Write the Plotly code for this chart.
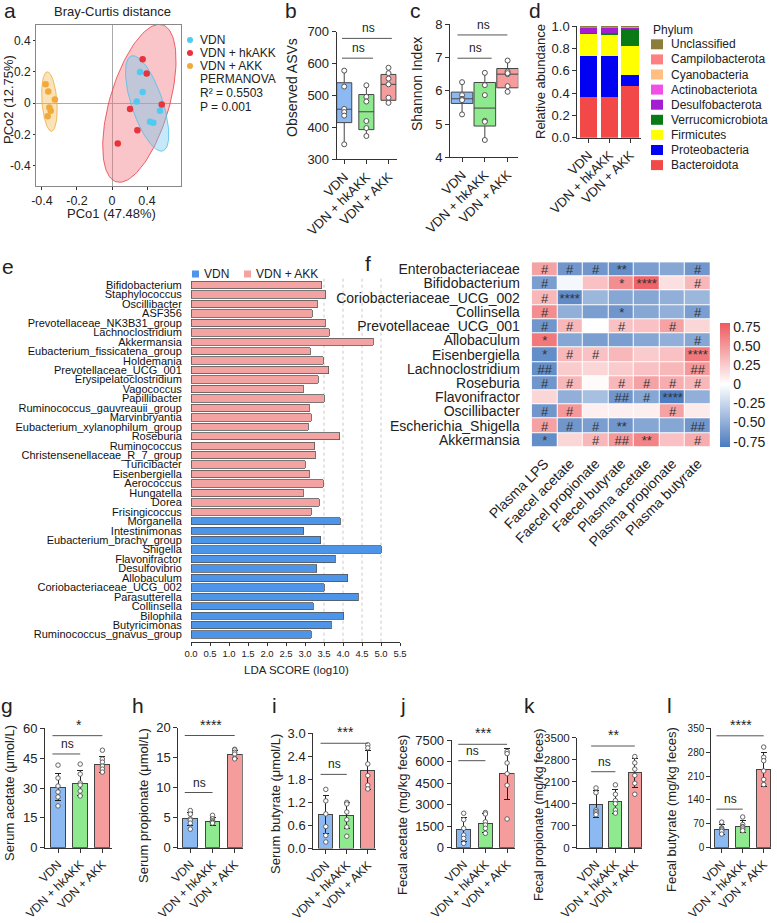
import numpy as np
import plotly.graph_objects as go

W, H = 777, 923
FONT = "Liberation Sans, Arial, sans-serif"
TXT = "#222222"

# ======================= DATA =======================
groups = ["VDN", "VDN + hkAKK", "VDN + AKK"]
pt_colors = ["#4FCBF2", "#E8323C", "#F2A93B"]
fill_colors = ["#8DB9F3", "#8FEA8F", "#F59C9C"]

# (a) PCoA, Bray-Curtis
pcoa_vdn_x = [0.160, 0.175, 0.141, 0.274, 0.217, 0.236]
pcoa_vdn_y = [0.200, 0.072, 0.011, -0.049, -0.119, -0.126]
pcoa_hk_x = [0.175, 0.198, 0.284, 0.103, 0.145, 0.033]
pcoa_hk_y = [0.281, 0.190, -0.008, -0.038, -0.173, -0.258]
pcoa_akk_x = [-0.379, -0.364, -0.326, -0.358, -0.350, -0.367]
pcoa_akk_y = [0.121, 0.075, 0.024, -0.027, -0.049, -0.083]
pcoa_xticks = [-0.4, -0.2, 0, 0.2]
pcoa_xticktext = ["-0.4", "-0.2", "0", "0.4"]
pcoa_yticks = [-0.4, -0.2, 0, 0.2, 0.4]
pcoa_yticktext = ["-0.4", "-0.2", "0", "0.2", "0.4"]

# (b) Observed ASVs box stats
asv_q1 = [415, 393, 485]
asv_med = [457, 449, 535]
asv_q3 = [540, 503, 566]
asv_lo = [347, 373, 474]
asv_hi = [578, 532, 587]
asv_pts = [[578, 528, 458, 448, 437, 347],
           [532, 496, 481, 420, 398, 373],
           [587, 570, 553, 535, 493, 477]]

# (c) Shannon index box stats
sh_q1 = [5.62, 4.94, 6.09]
sh_med = [5.76, 5.48, 6.50]
sh_q3 = [5.96, 6.25, 6.67]
sh_lo = [5.28, 4.50, 5.96]
sh_hi = [6.26, 6.53, 6.91]
sh_pts = [[6.26, 5.87, 5.76, 5.74, 5.72, 5.29],
          [6.54, 6.17, 5.87, 5.10, 5.07, 4.52],
          [6.91, 6.58, 6.50, 6.53, 6.14, 5.97]]

# (d) Phylum relative abundance (stack bottom -> top)
phyla = ["Bacteroidota", "Proteobacteria", "Firmicutes", "Verrucomicrobiota",
         "Desulfobacterota", "Actinobacteriota", "Cyanobacteria",
         "Campilobacterota", "Unclassified"]
phyla_colors = ["#F24848", "#0000F2", "#FFFF00", "#0A7A14", "#A31ED2",
                "#F050E6", "#FFBE82", "#FF8080", "#8C7D3C"]
phyla_vals = [[0.360, 0.365, 0.460],
              [0.370, 0.365, 0.100],
              [0.200, 0.190, 0.260],
              [0.010, 0.015, 0.155],
              [0.045, 0.050, 0.010],
              [0.010, 0.008, 0.004],
              [0.002, 0.002, 0.002],
              [0.002, 0.003, 0.007],
              [0.001, 0.002, 0.002]]

# (e) LEfSe LDA
lda_names = ["Bifidobacterium", "Staphylococcus", "Oscillibacter", "ASF356",
             "Prevotellaceae_NK3B31_group", "Lachnoclostridium", "Akkermansia",
             "Eubacterium_fissicatena_group", "Holdemania", "Prevotellaceae_UCG_001",
             "Erysipelatoclostridium", "Vagococcus", "Papillibacter",
             "Ruminococcus_gauvreauii_group", "Marvinbryantia",
             "Eubacterium_xylanophilum_group", "Roseburia", "Ruminococcus",
             "Christensenellaceae_R_7_group", "Turicibacter", "Eisenbergiella",
             "Aerococcus", "Hungatella", "Dorea", "Frisingicoccus", "Morganella",
             "Intestinimonas", "Eubacterium_brachy_group", "Shigella",
             "Flavonifractor", "Desulfovibrio", "Allobaculum",
             "Coriobacteriaceae_UCG_002", "Parasutterella", "Collinsella",
             "Bilophila", "Butyricimonas", "Ruminococcus_gnavus_group"]
lda_vals = [3.44, 3.55, 3.32, 3.19, 3.53, 3.64, 4.80, 3.14, 3.48, 3.63,
            3.35, 2.96, 3.51, 3.11, 3.17, 3.09, 3.91, 3.25, 3.27, 3.01,
            3.11, 3.48, 2.96, 3.38, 3.17, 3.93, 2.97, 3.41, 5.01, 3.80,
            3.31, 4.13, 3.51, 4.40, 3.22, 4.02, 3.69, 3.16]
lda_group = ["VDN + AKK"] * 25 + ["VDN"] * 13
lda_colors = {"VDN": "#4C95E8", "VDN + AKK": "#F4A3A3"}
lda_grid = [3.5, 4.0, 4.5, 5.0]

# (f) correlation heatmap
hm_rows = ["Enterobacteriaceae", "Bifidobacterium", "Coriobacteriaceae_UCG_002",
           "Collinsella", "Prevotellaceae_UCG_001", "Allobaculum", "Eisenbergiella",
           "Lachnoclostridium", "Roseburia", "Flavonifractor", "Oscillibacter",
           "Escherichia_Shigella", "Akkermansia"]
hm_cols = ["Plasma LPS", "Faecel acetate", "Faecel propionate", "Faecel butyrate",
           "Plasma acetate", "Plasma propionate", "Plasma butyrate"]
hm_z = [[0.45, -0.65, -0.65, -0.70, -0.60, -0.55, -0.65],
        [-0.60, -0.05, 0.30, 0.55, 0.75, 0.15, 0.35],
        [0.35, -0.72, -0.45, -0.55, -0.55, -0.50, -0.45],
        [0.55, -0.50, -0.60, -0.65, -0.55, -0.50, -0.60],
        [-0.65, 0.35, 0.00, 0.30, 0.30, 0.45, 0.20],
        [0.65, -0.55, -0.60, -0.60, -0.55, -0.50, -0.55],
        [-0.70, 0.35, 0.30, 0.35, 0.25, 0.30, 0.65],
        [-0.70, 0.25, 0.20, 0.25, 0.30, 0.35, 0.50],
        [-0.65, 0.35, 0.02, 0.35, 0.45, 0.40, 0.35],
        [0.20, -0.50, -0.40, -0.65, -0.55, -0.80, -0.50],
        [-0.65, 0.50, 0.08, 0.08, 0.08, 0.45, 0.10],
        [0.45, -0.65, -0.60, -0.65, -0.55, -0.55, -0.65],
        [-0.70, 0.20, 0.35, 0.50, 0.60, 0.30, 0.40]]
hm_txt = [["#", "#", "#", "**", "", "", "#"],
          ["#", "", "", "*", "****", "", "#"],
          ["#", "****", "", "", "", "", ""],
          ["#", "", "", "*", "", "", "#"],
          ["#", "#", "", "#", "", "#", ""],
          ["*", "", "", "", "", "", "#"],
          ["*", "#", "#", "", "", "", "****"],
          ["##", "", "", "", "", "", "##"],
          ["#", "#", "", "#", "#", "#", "#"],
          ["", "", "", "##", "#", "****", ""],
          ["#", "#", "", "", "", "#", ""],
          ["#", "#", "#", "**", "", "", "##"],
          ["*", "", "#", "##", "**", "", "#"]]
cb_ticks = [-0.75, -0.5, -0.25, 0, 0.25, 0.5, 0.75]
cb_text = ["-0.75", "-0.50", "-0.25", "0", "0.25", "0.50", "0.75"]

# (g-l) SCFA bars
serum_acetate_mean = [30.5, 32.5, 42.0]
serum_acetate_sd = [7.0, 6.5, 4.0]
serum_acetate_pts = [[41.5, 35, 31, 28, 25.5, 21], [42, 37, 32.5, 31.5, 28.5, 26], [49, 44.5, 43, 41, 39.5, 38]]
serum_prop_mean = [4.8, 4.4, 15.5]
serum_prop_sd = [1.1, 0.65, 0.7]
serum_prop_pts = [[6.2, 5.6, 4.8, 4.6, 4.1, 3.1], [5.4, 4.8, 4.5, 4.3, 4.2, 4.1], [16.4, 16.3, 15.9, 15.6, 14.9, 14.8]]
serum_but_mean = [0.88, 0.86, 2.04]
serum_but_sd = [0.5, 0.34, 0.5]
serum_but_pts = [[1.54, 1.24, 0.9, 0.57, 0.34, 0.17], [1.2, 1.16, 0.95, 0.75, 0.56, 0.32], [2.7, 2.62, 2.2, 1.9, 1.65, 1.55]]
fecal_ace_mean = [1250, 1700, 5150]
fecal_ace_sd = [840, 650, 1780]
fecal_ace_pts = [[2400, 1950, 1350, 880, 650, 300], [2450, 2350, 1800, 1580, 1350, 1000], [6700, 6550, 5900, 5150, 4350, 2000]]
fecal_prop_mean = [1380, 1480, 2380]
fecal_prop_sd = [430, 380, 470]
fecal_prop_pts = [[1900, 1750, 1200, 1150, 1100, 1050], [2000, 1700, 1500, 1400, 1200, 1100], [2900, 2700, 2500, 2300, 2050, 1700]]
fecal_but_mean = [53, 62, 230]
fecal_but_sd = [14, 17, 50]
fecal_but_pts = [[75, 58, 55, 52, 48, 40], [90, 68, 62, 60, 55, 50], [295, 265, 255, 225, 200, 185]]

# ======================= HELPERS =======================
fig = go.Figure()
layout = dict(width=W, height=H, margin=dict(l=0, r=0, t=0, b=0),
              paper_bgcolor="white", plot_bgcolor="rgba(0,0,0,0)",
              showlegend=False, barmode="stack",
              font=dict(family=FONT, color=TXT, size=13))
shapes, annotations = [], []
_n = [0]


def px(x):
    return x / W


def py(y):
    return 1 - y / H


def new_axes(l, r, t, b, xo, yo):
    _n[0] += 1
    s = "" if _n[0] == 1 else str(_n[0])
    xo = dict(xo)
    yo = dict(yo)
    xo.update(domain=[px(l), px(r)], anchor="y" + s, automargin=False)
    yo.update(domain=[py(b), py(t)], anchor="x" + s, automargin=False)
    layout["xaxis" + s] = xo
    layout["yaxis" + s] = yo
    return "x" + s, "y" + s


def tf(size):
    return dict(size=size, family=FONT, color=TXT)


def ax(**kw):
    d = dict(showgrid=False, zeroline=False, showline=True, linecolor="#333",
             linewidth=1, ticks="outside", ticklen=4, tickcolor="#333",
             tickwidth=1, tickfont=tf(13))
    d.update(kw)
    return d


def ann(text, x, y, size=13, xanchor="center", yanchor="middle", angle=0, **kw):
    annotations.append(dict(text=text, x=px(x), y=py(y), xref="paper", yref="paper",
                            showarrow=False, xanchor=xanchor, yanchor=yanchor,
                            textangle=angle, font=tf(size), **kw))


def letter(t, x, y):
    ann(t, x, y, size=21)


def bracket(xr, yr, x0, x1, yv, label, size=12):
    shapes.append(dict(type="line", xref=xr, yref=yr, x0=x0, x1=x1, y0=yv, y1=yv,
                       line=dict(color="#555", width=1)))
    annotations.append(dict(text=label, x=(x0 + x1) / 2 + 0.05, y=yv, xref=xr, yref=yr,
                            showarrow=False, yanchor="bottom", yshift=1, font=tf(size)))


def conf_ellipse(x, y, n=120, k=2.4477):
    x = np.asarray(x)
    y = np.asarray(y)
    vals, vecs = np.linalg.eigh(np.cov(x, y))
    t = np.linspace(0, 2 * np.pi, n)
    circ = np.vstack([np.cos(t), np.sin(t)])
    pts = vecs @ (np.sqrt(vals)[:, None] * k * circ)
    return x.mean() + pts[0], y.mean() + pts[1]


# ======================= (a) =======================
xa, ya = new_axes(36, 181, 25, 186,
                  ax(range=[-0.434, 0.394], tickvals=pcoa_xticks, ticktext=pcoa_xticktext,
                     mirror=True, linecolor="#888", zeroline=True, zerolinecolor="#aaa",
                     zerolinewidth=1, ticklen=3, tickfont=tf(12.5)),
                  ax(range=[-0.53, 0.5], tickvals=pcoa_yticks, ticktext=pcoa_yticktext,
                     mirror=True, linecolor="#888", zeroline=True, zerolinecolor="#aaa",
                     zerolinewidth=1, ticklen=2, tickfont=tf(12)))
ell_specs = [(pcoa_hk_x, pcoa_hk_y, "rgba(240,110,120,0.40)", "rgba(232,60,70,0.8)"),
             (pcoa_vdn_x, pcoa_vdn_y, "rgba(110,200,240,0.40)", "rgba(80,190,235,0.8)"),
             (pcoa_akk_x, pcoa_akk_y, "rgba(245,190,100,0.45)", "rgba(240,170,60,0.8)")]
for ex, ey, fc, lc in ell_specs:
    exx, eyy = conf_ellipse(ex, ey)
    fig.add_trace(go.Scatter(x=exx, y=eyy, mode="lines", fill="toself", fillcolor=fc,
                             line=dict(color=lc, width=1), xaxis=xa, yaxis=ya,
                             hoverinfo="skip"))
for (gx, gy), c in zip([(pcoa_vdn_x, pcoa_vdn_y), (pcoa_hk_x, pcoa_hk_y),
                        (pcoa_akk_x, pcoa_akk_y)], pt_colors):
    fig.add_trace(go.Scatter(x=gx, y=gy, mode="markers", xaxis=xa, yaxis=ya,
                             marker=dict(size=6.5, color=c)))
letter("a", 10, 11)
ann("Bray-Curtis distance", 112, 12, size=13)
ann("PCo1 (47.48%)", 111, 213, size=13)
ann("PCo2 (12.75%)", 8, 100, size=13, angle=-90)
leg_a_y = [40, 53, 66]
for g, c, yy in zip(groups, pt_colors, leg_a_y):
    shapes.append(dict(type="circle", xref="paper", yref="paper",
                       x0=px(187), x1=px(193), y0=py(yy + 3), y1=py(yy - 3),
                       fillcolor=c, line=dict(width=0)))
    ann(g, 198, yy, size=12, xanchor="left")
ann("PERMANOVA", 198, 79, size=12, xanchor="left")
ann("R² = 0.5503", 198, 93, size=12, xanchor="left")
ann("P = 0.001", 198, 107, size=12, xanchor="left")


# ======================= (b), (c) boxes =======================
def box_panel(l, r, t, b, xr, yrange, dtick, q1, med, q3, lo, hi, pts, width):
    xx, yy = new_axes(l, r, t, b,
                      ax(range=xr, tickvals=[0, 1, 2], ticktext=groups, tickangle=-45),
                      ax(range=yrange, dtick=dtick, tick0=yrange[0]))
    for i in range(3):
        fig.add_trace(go.Box(x=[i], q1=[q1[i]], median=[med[i]], q3=[q3[i]],
                             lowerfence=[lo[i]], upperfence=[hi[i]], width=width,
                             fillcolor=fill_colors[i], whiskerwidth=0,
                             line=dict(color="#444", width=1), boxpoints=False,
                             xaxis=xx, yaxis=yy, hoverinfo="skip"))
        fig.add_trace(go.Scatter(x=[i] * len(pts[i]), y=pts[i], mode="markers",
                                 xaxis=xx, yaxis=yy,
                                 marker=dict(size=5, color="white",
                                             line=dict(color="#555", width=1))))
    return xx, yy


xb, yb = box_panel(336.7, 396.7, 31.7, 159.3, [-0.34, 2.37], [300, 700], 100,
                   asv_q1, asv_med, asv_q3, asv_lo, asv_hi, asv_pts, 0.68)
bracket(xb, yb, -0.1, 1.3, 617, "ns")
bracket(xb, yb, -0.1, 2.15, 679, "ns")
letter("b", 291, 11)
ann("Observed ASVs", 292, 88, size=14, angle=-90)

xc, yc = box_panel(450, 518.3, 24.3, 157.3, [-0.53, 2.47], [4, 8], 1,
                   sh_q1, sh_med, sh_q3, sh_lo, sh_hi, sh_pts, 0.95)
bracket(xc, yc, -0.2, 1.3, 6.98, "ns")
bracket(xc, yc, -0.2, 1.99, 7.68, "ns")
letter("c", 415, 11)
ann("Shannon Index", 417, 84, size=14, angle=-90)

# ======================= (d) stacked =======================
xd, yd = new_axes(577.3, 640.7, 26, 137.7,
                  ax(range=[-0.53, 2.51], tickvals=[0, 1, 2], ticktext=groups, tickangle=-45),
                  ax(range=[0, 1], dtick=0.2, tickformat=".1f"))
for name, col, vals in zip(phyla, phyla_colors, phyla_vals):
    fig.add_trace(go.Bar(x=[0, 1, 2], y=vals, width=0.83, marker=dict(color=col, line=dict(width=0)),
                         xaxis=xd, yaxis=yd, name=name))
letter("d", 535, 11)
ann("Relative abundance", 540, 82, size=13, angle=-90)
ann("Phylum", 651, 30, size=12, xanchor="left")
leg_d_y = [44.3, 59.4, 74.5, 89.6, 104.7, 119.8, 134.9, 150.0, 165.1]
for name, col, yy in zip(phyla[::-1], phyla_colors[::-1], leg_d_y):
    shapes.append(dict(type="rect", xref="paper", yref="paper",
                       x0=px(651), x1=px(663), y0=py(yy + 5), y1=py(yy - 5),
                       fillcolor=col, line=dict(width=0)))
    ann(name, 669, yy, size=12, xanchor="left")

# ======================= (e) LDA =======================
xe, ye = new_axes(191, 400, 278, 641.7,
                  ax(range=[0, 5.5], dtick=0.5, tick0=0, tickformat=".1f", ticklen=3,
                     tickfont=tf(9.5)),
                  ax(type="category", range=[37.75, -0.75], tickmode="array",
                     tickvals=lda_names, ticktext=lda_names, showline=False,
                     ticklen=6, tickcolor="rgba(0,0,0,0)",
                     tickfont=dict(size=11, family=FONT, color="#111")))
for gx in lda_grid:
    shapes.append(dict(type="line", xref=xe, yref=ye + " domain", x0=gx, x1=gx, y0=0, y1=1,
                       line=dict(color="#bbb", width=0.8, dash="dot"), layer="below"))
fig.add_trace(go.Bar(y=lda_names, x=lda_vals, orientation="h", width=0.78,
                     marker=dict(color=[lda_colors[g] for g in lda_group],
                                 line=dict(color="#555", width=0.8)),
                     xaxis=xe, yaxis=ye))
letter("e", 8, 266)
ann("LDA SCORE (log10)", 296, 670, size=11.5)
for lab, c, sx in [("VDN", lda_colors["VDN"], 192), ("VDN + AKK", lda_colors["VDN + AKK"], 244)]:
    shapes.append(dict(type="rect", xref="paper", yref="paper",
                       x0=px(sx), x1=px(sx + 7), y0=py(277.5), y1=py(270.5),
                       fillcolor=c, line=dict(width=0)))
    ann(lab, sx + 10, 274, size=12, xanchor="left")

# ======================= (f) heatmap =======================
zmin, zmax = -0.82, 0.80
mid = -zmin / (zmax - zmin)
xf, yf = new_axes(531.7, 710.7, 262.2, 447.1,
                  ax(type="category", tickangle=-45, showline=False, ticklen=2,
                     tickcolor="rgba(0,0,0,0)", tickmode="array", tickvals=hm_cols,
                     ticktext=hm_cols, tickfont=tf(14)),
                  ax(type="category", autorange="reversed", showline=False, ticklen=8,
                     tickcolor="rgba(0,0,0,0)", tickmode="array", tickvals=hm_rows,
                     ticktext=hm_rows, tickfont=tf(14)))
fig.add_trace(go.Heatmap(z=hm_z, x=hm_cols, y=hm_rows, zmin=zmin, zmax=zmax,
                         colorscale=[[0, "#4A7BBF"], [mid, "#FFFFFF"], [1, "#EE5A5E"]],
                         xgap=1, ygap=1, text=hm_txt, texttemplate="%{text}",
                         textfont=dict(size=13, color="#333", family=FONT),
                         xaxis=xf, yaxis=yf,
                         colorbar=dict(x=px(720), xanchor="left", y=py(447), yanchor="bottom",
                                       len=124 / H, lenmode="fraction", thickness=10,
                                       thicknessmode="pixels", outlinewidth=0,
                                       tickvals=cb_ticks, ticktext=cb_text, ticks="",
                                       tickfont=tf(14), xpad=0, ypad=0)))
letter("f", 368, 263)


# ======================= (g-l) bars =======================
def bar_panel(axis_px, c0, sp, right_px, top_px, bot_px, ymax, dtick, tickfmt, tfs,
              means, sds, pts, ns_y, top_y, star):
    r0 = -(c0 - axis_px) / sp
    r1 = (right_px - c0) / sp
    xx, yy = new_axes(axis_px, right_px, top_px, bot_px,
                      ax(range=[r0, r1], tickvals=[0, 1, 2], ticktext=groups, tickangle=-45,
                         tickfont=tf(12)),
                      ax(range=[0, ymax], dtick=dtick, tick0=0, tickformat=tickfmt,
                         tickfont=tf(tfs)))
    fig.add_trace(go.Bar(x=[0, 1, 2], y=means, width=0.67,
                         marker=dict(color=fill_colors, line=dict(color="#444", width=1)),
                         error_y=dict(type="data", array=sds, visible=True, color="#222",
                                      thickness=1, width=3),
                         xaxis=xx, yaxis=yy))
    for i in range(3):
        fig.add_trace(go.Scatter(x=[i] * len(pts[i]), y=pts[i], mode="markers",
                                 xaxis=xx, yaxis=yy,
                                 marker=dict(size=4.5, color="white",
                                             line=dict(color="#555", width=0.9))))
    bracket(xx, yy, -0.25, 1.0, ns_y, "ns")
    bracket(xx, yy, -0.25, 2.0, top_y, star, size=14)
    return xx, yy


bar_panel(45, 58, 22.2, 111.7, 728.3, 847.7, 60, 15, "", 13,
          serum_acetate_mean, serum_acetate_sd, serum_acetate_pts, 47.1, 56.3, "*")
letter("g", 7, 705)
ann("Serum acetate (μmol/L)", 9, 793, size=13, angle=-90)

bar_panel(178.3, 190.3, 22.2, 242.7, 727.7, 847.7, 20, 5, "", 13,
          serum_prop_mean, serum_prop_sd, serum_prop_pts, 9.2, 18.7, "****")
letter("h", 138, 705)
ann("Serum propionate (μmol/L)", 143, 806, size=13, angle=-90)

bar_panel(313.3, 325.8, 21, 375.7, 733.3, 848.5, 3.0, 0.6, ".1f", 13,
          serum_but_mean, serum_but_sd, serum_but_pts, 1.93, 2.74, "***")
letter("i", 274, 705)
ann("Serum butyrate (μmol/L)", 275, 804, size=13, angle=-90)

bar_panel(451.7, 463.7, 21.7, 514.5, 740, 847.7, 7500, 1500, "", 13,
          fecal_ace_mean, fecal_ace_sd, fecal_ace_pts, 6060, 7200, "***")
letter("j", 403, 705)
ann("Fecal acetate (mg/kg feces)", 402, 815, size=13, angle=-90)

bar_panel(577, 596, 19.4, 642, 737.7, 847.7, 3500, 700, "", 11.5,
          fecal_prop_mean, fecal_prop_sd, fecal_prop_pts, 2418, 3236, "**")
letter("k", 529, 705)
ann("Fecal propionate (mg/kg feces)", 539, 815, size=12.5, angle=-90)

bar_panel(711.3, 721.7, 21, 771.3, 728.3, 847.7, 350, 70, "", 10,
          fecal_but_mean, fecal_but_sd, fecal_but_pts, 113, 328, "****")
letter("l", 669, 705)
ann("Fecal butyrate (mg/kg feces)", 671, 810, size=13, angle=-90)

layout["shapes"] = shapes
layout["annotations"] = annotations
fig.update_layout(**layout)
fig.write_html("out.html", config={"displayModeBar": False},
               post_script="document.body.style.margin='0';document.body.style.overflow='hidden';")
